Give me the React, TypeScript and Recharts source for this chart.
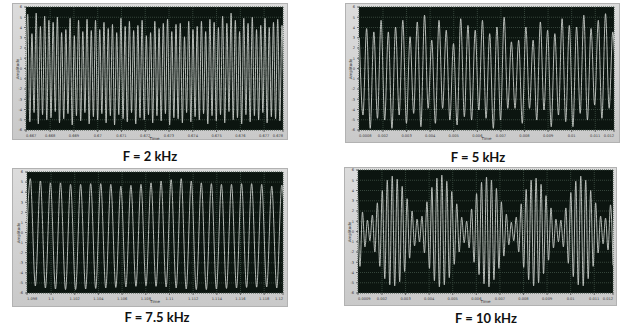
import { LineChart, Line, XAxis, YAxis, CartesianGrid } from 'recharts'

// turning points of each trace (amplitude units)
const PEAKS_2K = [
  5.3, 3.4, 5.4, 4.1, 5.1, 4.7, 4.5, 5.0, 3.5, 3.8, 4.9, 3.2, 4.7, 3.6, 4.8, 3.7,
  4.7, 3.8, 4.5, 3.9, 4.3, 3.5, 4.9, 4.1, 4.6, 3.7, 4.2, 4.7, 3.2, 3.5, 4.6, 3.9,
  4.4, 4.8, 3.6, 4.3, 4.4, 3.1, 4.6, 3.8, 4.1, 4.6, 3.6, 4.8, 4.5, 4.0, 5.1, 4.4,
  5.4, 4.7, 3.6, 4.9, 4.4, 5.0, 3.8, 4.2, 4.9, 4.0, 4.5, 4.8, 4.2,
]
const TROUGHS_2K = [
  -4.6, -5.2, -4.3, -5.4, -4.5, -5.0, -4.8, -4.2, -5.3, -4.9, -4.4, -5.5, -4.6, -5.1, -4.3, -5.4,
  -4.7, -5.0, -4.4, -5.3, -4.6, -5.5, -4.5, -4.9, -5.2, -4.3, -5.4, -4.8, -5.0, -4.5, -5.3, -4.6,
  -5.1, -4.4, -5.5, -4.8, -4.9, -5.3, -4.3, -5.2, -4.7, -5.0, -4.4, -5.4, -4.6, -5.1, -4.5, -5.3,
  -4.2, -5.0, -4.8, -5.4, -4.5, -5.2, -4.6, -5.0, -4.3, -5.3, -4.7, -4.9, -5.1, -4.6,
]

const PEAKS_5K = [
  3.0, 3.9, 3.57, 4.7, 3.57, 4.05, 4.7, 3.1, 4.54, 5.2, 2.76, 4.7, 3.73, 2.43, 4.86, 4.2,
  3.73, 4.7, 3.4, 4.05, 5.0, 2.6, 2.76, 4.05, 2.76, 4.54, 3.73, 3.4, 4.86, 4.2, 4.05, 5.2,
  3.9, 4.7, 5.35, 3.57,
]
const TROUGHS_5K = [
  -4.54, -5.84, -4.86, -5.03, -5.84, -4.54, -5.35, -4.38, -5.68, -3.89, -5.35, -3.89, -5.03, -5.51, -4.7, -5.03,
  -4.05, -4.86, -5.84, -5.03, -3.89, -3.89, -5.35, -3.89, -5.03, -4.05, -5.68, -4.54, -5.19, -5.68, -4.38, -5.03,
  -3.57, -4.86, -3.89, -4.6,
]

const TROUGHS_75K = [
  -5.2, -5.3, -5.5, -5.6, -5.66, -5.66, -5.6, -5.55, -5.5, -5.45, -5.4, -5.34, -5.28, -5.34,
  -5.4, -5.5, -5.6, -5.66, -5.66, -5.6, -5.55, -5.5, -5.45, -5.42, -5.4, -5.5, -5.3,
]
const PEAKS_75K = [
  5.34, 5.11, 4.92, 4.92, 4.78, 4.78, 4.85, 4.85, 4.78, 4.59, 4.68, 4.78, 4.92,
  5.11, 5.24, 5.34, 5.11, 4.92, 4.85, 4.78, 4.78, 4.85, 4.85, 4.78, 4.59, 4.7,
]

const PEAKS_10K = [
  4.0, 1.9, 1.1,
  1.6, 2.8, 4.0, 5.0, 5.4, 5.1, 4.4, 3.2, 2.0, 1.2,
  1.5, 2.9, 4.3, 5.2, 5.5, 4.9, 3.9, 2.7, 1.4,
  1.0, 2.2, 3.7, 4.8, 5.3, 5.0, 4.2, 2.9, 1.7, 0.9,
  1.4, 2.7, 4.1, 5.0, 5.2, 4.6, 3.5, 2.3, 1.2,
  1.1, 2.3, 3.8, 4.9, 5.4, 5.0, 4.0, 2.8, 1.5,
  1.3, 2.6,
]
const TROUGHS_10K = [
  -3.4, -1.5, -0.9,
  -2.0, -3.4, -4.6, -5.2, -5.3, -4.9, -3.9, -2.6, -1.4,
  -1.0, -2.1, -3.6, -4.8, -5.4, -5.2, -4.5, -3.2, -2.0, -1.1,
  -1.6, -3.0, -4.2, -5.1, -5.4, -4.7, -3.6, -2.4, -1.3,
  -0.9, -2.0, -3.5, -4.7, -5.3, -5.0, -4.1, -2.8, -1.6, -1.0,
  -1.5, -3.1, -4.4, -5.2, -5.3, -4.6, -3.4, -2.1, -1.2,
  -1.8, -3.3,
]

const Y_TICKS = [-6, -5, -4, -3, -2, -1, 0, 1, 2, 3, 4, 5, 6]
const X_LABELS_2K = ['0.667', '0.668', '0.669', '0.67', '0.671', '0.672', '0.673', '0.674', '0.675', '0.676', '0.677', '0.678']
const X_LABELS_5K = ['0.0008', '0.002', '0.003', '0.004', '0.005', '0.006', '0.007', '0.008', '0.009', '0.01', '0.011', '0.012']
const X_LABELS_75K = ['1.098', '1.1', '1.102', '1.104', '1.106', '1.108', '1.11', '1.112', '1.114', '1.116', '1.118', '1.12']
const X_LABELS_10K = ['0.0009', '0.002', '0.003', '0.004', '0.005', '0.006', '0.007', '0.008', '0.009', '0.01', '0.011', '0.012']
const X_TICK_FRAC = [0, 0.094, 0.1865, 0.279, 0.3715, 0.464, 0.5565, 0.649, 0.7415, 0.834, 0.9265, 1]

// alternate two lists of turning points into one trace
function zigzag(first: number[], second: number[]) {
  const out: { i: number; v: number }[] = []
  first.forEach((v, k) => {
    out.push({ i: out.length, v })
    if (k < second.length) out.push({ i: out.length, v: second[k] })
  })
  return out
}

interface PanelProps {
  data: { i: number; v: number }[]
  lo: number
  hi: number
  labels: string[]
  box: { left: number; top: number; width: number; height: number }
  plot: { left: number; top: number; bottom: number; right: number }
  title: string
  titleAt: { x: number; y: number }
}

const tickStyle = { fontSize: 3.6, fill: '#3a3a3a', fontFamily: 'DejaVu Sans' }

function Scope({ data, lo, hi, labels, box, plot, title, titleAt }: PanelProps) {
  const ticks = X_TICK_FRAC.map(f => lo + f * (hi - lo))
  const plotH = box.height - plot.top - plot.bottom

  // first label hangs right, last hangs left, like the scope software
  const TimeTick = (p: any) => {
    const idx = p.index
    const anchor = idx === 0 ? 'start' : idx === labels.length - 1 ? 'end' : 'middle'
    return (
      <text x={p.x} y={p.y} dy="0.71em" textAnchor={anchor} {...tickStyle}>
        {labels[idx]}
      </text>
    )
  }

  return (
    <>
      <div
        style={{
          position: 'absolute', left: box.left, top: box.top, width: box.width, height: box.height,
          background: 'linear-gradient(#dcdcdc, #c9c9c9)', boxShadow: 'inset 0 0 0 1px #b2b2b2',
        }}
      >
        <LineChart
          width={box.width}
          height={box.height}
          data={data}
          margin={{ top: plot.top, right: plot.right, bottom: 0, left: 0 }}
        >
          <CartesianGrid fill="#0c1510" stroke="#34443a" strokeDasharray="1 1" horizontalValues={Y_TICKS} verticalValues={ticks} />
          <XAxis
            dataKey="i"
            type="number"
            domain={[lo, hi]}
            allowDataOverflow
            ticks={ticks}
            interval={0}
            height={plot.bottom}
            tick={TimeTick}
            tickSize={2}
            axisLine={false}
            tickLine={{ stroke: '#666' }}
          />
          <YAxis
            type="number"
            domain={[-6, 6]}
            ticks={Y_TICKS}
            interval={0}
            width={plot.left}
            tick={tickStyle}
            tickSize={2}
            axisLine={false}
            tickLine={{ stroke: '#666' }}
          />
          <Line
            dataKey="v"
            type="monotone"
            stroke="#c9cec9"
            strokeWidth={0.9}
            dot={false}
            isAnimationActive={false}
          />
        </LineChart>
        <div
          style={{
            position: 'absolute', left: plot.left - 9, top: plot.top + plotH / 2, width: 0, height: 0,
          }}
        >
          <div style={{ transform: 'translate(-50%, -50%) rotate(-90deg)', fontSize: 4, color: '#333', fontFamily: 'DejaVu Sans', whiteSpace: 'nowrap', position: 'absolute' }}>
            Amplitude
          </div>
        </div>
        <div
          style={{
            position: 'absolute', left: plot.left, right: plot.right, top: box.height - plot.bottom + 6,
            textAlign: 'center', fontSize: 4, color: '#333', fontFamily: 'DejaVu Sans',
          }}
        >
          Time
        </div>
      </div>
      <div
        style={{
          position: 'absolute', left: titleAt.x - 70, width: 140, top: titleAt.y - 9, lineHeight: '18px',
          textAlign: 'center', fontFamily: 'Lato', fontWeight: 700, fontSize: 13, color: '#111',
        }}
      >
        {title}
      </div>
    </>
  )
}

export default function App() {
  return (
    <div style={{ position: 'absolute', left: 0, top: 0, width: 622, height: 328, background: '#fff', overflow: 'hidden' }}>
      <Scope
        data={zigzag(TROUGHS_2K, PEAKS_2K)}
        lo={0.19}
        hi={121.5}
        labels={X_LABELS_2K}
        box={{ left: 12, top: 3, width: 276, height: 137 }}
        plot={{ left: 14, top: 4, bottom: 10, right: 5 }}
        title="F = 2 kHz"
        titleAt={{ x: 150, y: 155.5 }}
      />
      <Scope
        data={zigzag(PEAKS_5K, TROUGHS_5K)}
        lo={-0.1}
        hi={70.34}
        labels={X_LABELS_5K}
        box={{ left: 345, top: 3, width: 275, height: 140 }}
        plot={{ left: 14, top: 4, bottom: 13, right: 6 }}
        title="F = 5 kHz"
        titleAt={{ x: 478, y: 157 }}
      />
      <Scope
        data={zigzag(TROUGHS_75K, PEAKS_75K)}
        lo={0.34}
        hi={51.24}
        labels={X_LABELS_75K}
        box={{ left: 12, top: 168, width: 276, height: 139 }}
        plot={{ left: 15, top: 4, bottom: 14, right: 5 }}
        title="F = 7.5 kHz"
        titleAt={{ x: 157, y: 317 }}
      />
      <Scope
        data={zigzag(PEAKS_10K, TROUGHS_10K)}
        lo={0.2}
        hi={103}
        labels={X_LABELS_10K}
        box={{ left: 344, top: 167, width: 273, height: 139 }}
        plot={{ left: 14, top: 3, bottom: 13, right: 4 }}
        title="F = 10 kHz"
        titleAt={{ x: 486, y: 318 }}
      />
    </div>
  )
}
